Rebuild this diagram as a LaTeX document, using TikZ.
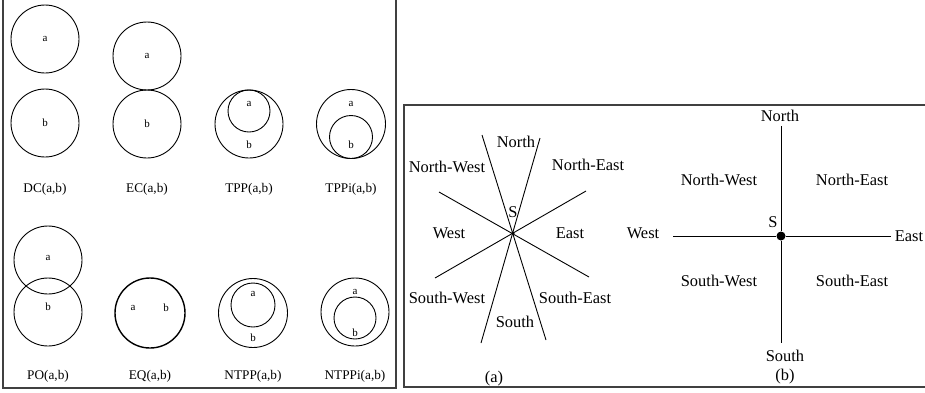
\documentclass[tikz,border=0pt]{standalone}
\usepackage{fontspec}
\setmainfont{Liberation Serif}
\begin{document}
\begin{tikzpicture}[x=1bp,y=-1bp,
  ring/.style={circle, draw, inner sep=0pt, outer sep=0pt, line width=0.9bp},
  tag/.style={font=\fontsize{11}{12}\selectfont, inner sep=0pt},
  rel/.style={font=\fontsize{13.3}{15}\selectfont, inner sep=0pt},
  dir/.style={font=\fontsize{16.5}{18}\selectfont, inner sep=0pt},
  ray/.style={line width=0.9bp},
  frame/.style={line width=1.2bp, draw=black!75}]
\useasboundingbox (0,0) rectangle (925,392);

% ---- RCC8 relations ----
\draw[frame] (3,-2) -- (3,388) -- (396,388) -- (396,-2);

% DC
\node[ring, minimum size=68bp] (dca) at (45,39) {};
\node[ring, minimum size=68bp] (dcb) at (45,123) {};
\node[tag] (dcla) at (45,39) {a};
\node[tag] (dclb) at (45,123) {b};
\node[rel] (dc) at (45,189) {DC(a,b)};

% EC
\node[ring, minimum size=68bp] (eca) at (147,56) {};
\node[ring, minimum size=68bp] (ecb) at (147,124) {};
\node[tag] (ecla) at (147,56) {a};
\node[tag] (eclb) at (147,124) {b};
\node[rel] (ec) at (147,189) {EC(a,b)};

% TPP
\node[ring, minimum size=68bp] (tppb) at (249,124) {};
\node[ring, minimum size=42bp] (tppa) at (249,111) {};
\node[tag] (tppla) at (249,104) {a};
\node[tag] (tpplb) at (249,145) {b};
\node[rel] (tpp) at (249,189) {TPP(a,b)};

% TPPi
\node[ring, minimum size=69bp] (tppia) at (351,124) {};
\node[ring, minimum size=43bp] (tppib) at (351,137) {};
\node[tag] (tppila) at (351,104) {a};
\node[tag] (tppilb) at (351,145) {b};
\node[rel] (tppi) at (351,189) {TPPi(a,b)};

% PO
\node[ring, minimum size=68bp] (poa) at (48,260) {};
\node[ring, minimum size=68bp] (pob) at (48,312) {};
\node[tag] (pola) at (48,258) {a};
\node[tag] (polb) at (48,307) {b};
\node[rel] (po) at (48,376) {PO(a,b)};

% EQ (two coincident circles)
\node[ring, minimum size=70bp, line width=1.4bp] (eq) at (150,313) {};
\node[tag] (eqla) at (133,308) {a};
\node[tag] (eqlb) at (166,308) {b};
\node[rel] (eqr) at (150,376) {EQ(a,b)};

% NTPP
\node[ring, minimum size=69bp] (ntppb) at (253,313) {};
\node[ring, minimum size=44bp] (ntppa) at (253,305) {};
\node[tag] (ntppla) at (253,294) {a};
\node[tag] (ntpplb) at (253,338) {b};
\node[rel] (ntpp) at (253,376) {NTPP(a,b)};

% NTPPi
\node[ring, minimum size=68bp] (ntppia) at (355,312) {};
\node[ring, minimum size=42bp] (ntppib) at (355,318) {};
\node[tag] (ntppila) at (355,292) {a};
\node[tag] (ntppilb) at (355,333) {b};
\node[rel] (ntppi) at (355,376) {NTPPi(a,b)};

% ---- Cardinal directions ----
\draw[frame] (935,105) -- (404,105) -- (404,387) -- (935,387);

% (a) cone-shaped directions
\node[circle, fill, inner sep=0pt, minimum size=3.5bp] (sa) at (513,233) {};
\coordinate (a1s) at (482,135); \coordinate (a1e) at (546,340);
\coordinate (a2s) at (540,138); \coordinate (a2e) at (481,343);
\coordinate (a3s) at (439,192); \coordinate (a3e) at (589,277);
\coordinate (a4s) at (435,278); \coordinate (a4e) at (586,191);
\draw[ray] (a1s) -- (a1e);
\draw[ray] (a2s) -- (a2e);
\draw[ray] (a3s) -- (a3e);
\draw[ray] (a4s) -- (a4e);
\node[dir] (asl) at (513,212) {S};
\node[dir] (an) at (516,142) {North};
\node[dir] (anw) at (447,167) {North-West};
\node[dir] (ane) at (588,165) {North-East};
\node[dir] (aw) at (449,233) {West};
\node[dir] (ae) at (570,233) {East};
\node[dir] (asw) at (447,298) {South-West};
\node[dir] (ase) at (575,298) {South-East};
\node[dir] (as) at (515,322) {South};
\node[dir] (acap) at (494,379) {(a)};

% (b) projection-based directions
\node[circle, fill, inner sep=0pt, minimum size=9bp] (sb) at (781,236) {};
\coordinate (bn) at (781,126); \coordinate (bs) at (781,343);
\coordinate (bw) at (673,236); \coordinate (be) at (891,236);
\draw[ray] (bn) -- (sb) -- (bs);
\draw[ray] (bw) -- (sb) -- (be);
\node[dir] (bsl) at (773,222) {S};
\node[dir] (bnl) at (780,116) {North};
\node[dir] (bnw) at (719,180) {North-West};
\node[dir] (bne) at (852,180) {North-East};
\node[dir] (bwl) at (643,233) {West};
\node[dir] (bel) at (909,236) {East};
\node[dir] (bsw) at (719,281) {South-West};
\node[dir] (bse) at (852,281) {South-East};
\node[dir] (bsl2) at (785,356) {South};
\node[dir] (bcap) at (785,377) {(b)};
\end{tikzpicture}
\end{document}
